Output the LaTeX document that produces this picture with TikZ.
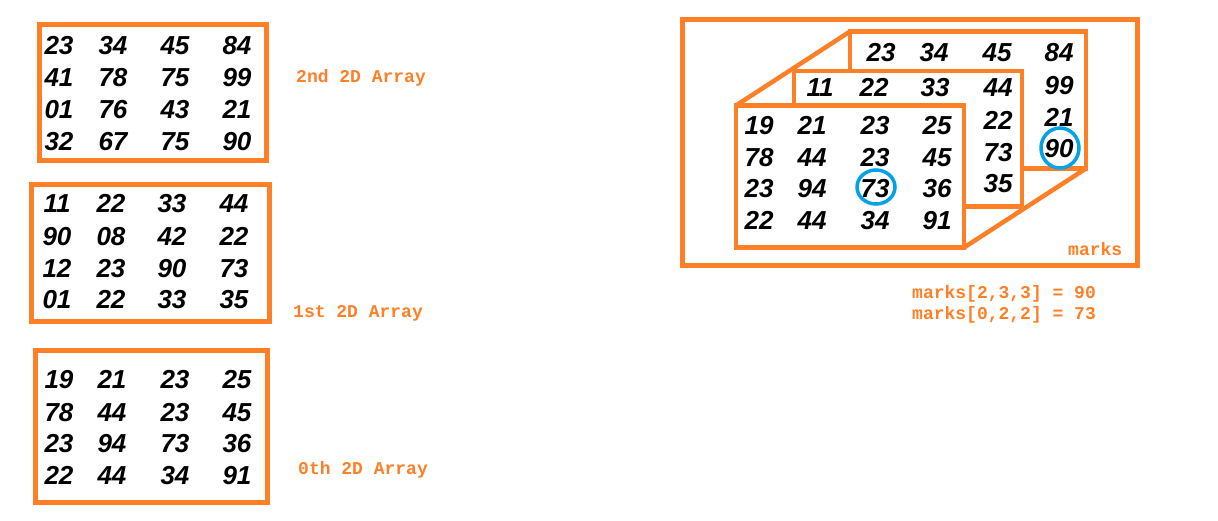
\documentclass[tikz,border=0pt]{standalone}
\usepackage{fontspec}
\setmainfont{Liberation Sans}
\newfontfamily\monof{Liberation Mono}
\definecolor{paintorange}{HTML}{FF7F27}
\definecolor{paintblue}{HTML}{00A2E8}
\begin{document}
\begin{tikzpicture}[x=1pt,y=-1pt,
  num/.style={font=\fontsize{26}{30}\selectfont\bfseries\itshape, inner sep=0pt, anchor=base, yshift=-9.3pt},
  lbl/.style={font=\monof\fontsize{18}{20}\selectfont\bfseries, text=paintorange, inner sep=0pt, anchor=base west},
  frame/.style={draw=paintorange, line width=5pt},
  panel/.style={draw=paintorange, line width=4.5pt, fill=white},
  ring/.style={draw=paintblue, line width=3.5pt}]
\useasboundingbox[fill=white] (0,0) rectangle (1218,520);

% ---------- left: three 2D arrays ----------
\draw[frame] (39.8,24.5) rectangle (266.5,160.5);
\foreach \y/\a/\b/\c/\d [count=\r] in {45.5/23/34/45/84, 77.3/41/78/75/99, 109.5/01/76/43/21, 141/32/67/75/90}{
  \node[num] (ta\r a) at (59,\y) {\a};
  \node[num] (ta\r b) at (113,\y) {\b};
  \node[num] (ta\r c) at (175,\y) {\c};
  \node[num] (ta\r d) at (237,\y) {\d};
}
\node[lbl] (l2) at (296,82.7) {2nd 2D Array};

\draw[frame] (31.5,184.8) rectangle (269,321.5);
\foreach \y/\a/\b/\c/\d [count=\r] in {203/11/22/33/44, 235.7/90/08/42/22, 267.7/12/23/90/73, 299/01/22/33/35}{
  \node[num] (tb\r a) at (57,\y) {\a};
  \node[num] (tb\r b) at (111,\y) {\b};
  \node[num] (tb\r c) at (172,\y) {\c};
  \node[num] (tb\r d) at (234,\y) {\d};
}
\node[lbl] (l1) at (293,317) {1st 2D Array};

\draw[frame] (35.5,350.5) rectangle (267.5,502.5);
\foreach \y/\a/\b/\c/\d [count=\r] in {379/19/21/23/25, 412/78/44/23/45, 443/23/94/73/36, 475/22/44/34/91}{
  \node[num] (tc\r a) at (59,\y) {\a};
  \node[num] (tc\r b) at (112,\y) {\b};
  \node[num] (tc\r c) at (175,\y) {\c};
  \node[num] (tc\r d) at (237,\y) {\d};
}
\node[lbl] (l0) at (298,474) {0th 2D Array};

% ---------- right: 3D array ----------
\draw[frame] (682.5,19.5) rectangle (1137.5,265.5);

\draw[panel] (850,31.5) rectangle (1086,168.5);
\foreach \x/\v [count=\i] in {881/23, 934/34, 997/45, 1059/84}{
  \node[num] (bk\i) at (\x,52) {\v};
}
\foreach \y/\v [count=\i] in {85/99, 117/21, 148/90}{
  \node[num] (bkr\i) at (1059,\y) {\v};
}

\draw[panel] (794,71) rectangle (1022,206.5);
\foreach \x/\v [count=\i] in {820/11, 874/22, 935/33, 998/44}{
  \node[num] (md\i) at (\x,87) {\v};
}
\foreach \y/\v [count=\i] in {120/22, 152/73, 183/35}{
  \node[num] (mdr\i) at (998,\y) {\v};
}

\draw[panel] (736,105.5) rectangle (964,247.5);
\foreach \y/\a/\b/\c/\d [count=\r] in {125/19/21/23/25, 157/78/44/23/45, 188/23/94/73/36, 220/22/44/34/91}{
  \node[num] (fr\r a) at (759,\y) {\a};
  \node[num] (fr\r b) at (812,\y) {\b};
  \node[num] (fr\r c) at (875,\y) {\c};
  \node[num] (fr\r d) at (937,\y) {\d};
}

\coordinate (ftl) at (736,105.5);
\coordinate (btl) at (850,31.5);
\coordinate (fbr) at (964,247.5);
\coordinate (bbr) at (1086,168.5);
\draw[draw=paintorange, line width=4.5pt] (ftl) -- (btl);
\draw[draw=paintorange, line width=4.5pt] (fbr) -- (bbr);

\draw[ring] (876,187) ellipse [x radius=19, y radius=17];
\draw[ring] (1060,148) ellipse [x radius=19, y radius=20];

\node[lbl] (lm) at (1068,255) {marks};
\node[lbl] (e1) at (912,298.5) {marks[2,3,3] = 90};
\node[lbl] (e2) at (912,319.5) {marks[0,2,2] = 73};
\end{tikzpicture}
\end{document}
